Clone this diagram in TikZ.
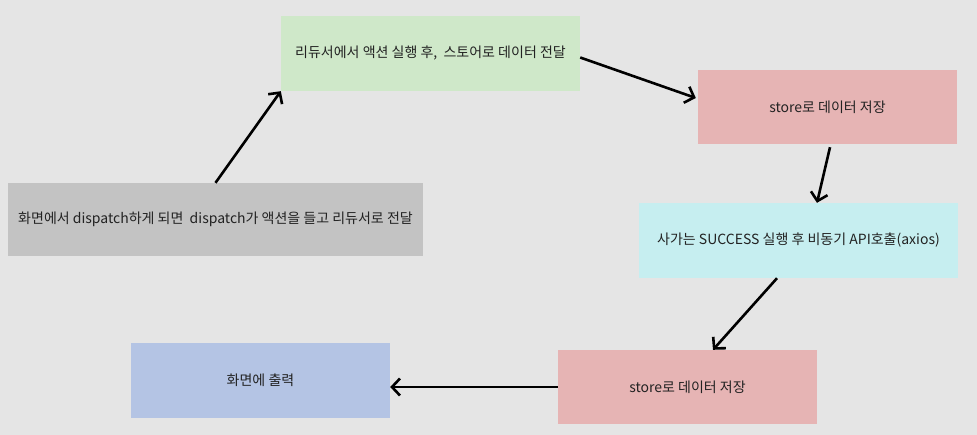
\documentclass[tikz,border=0pt]{standalone}
\usepackage{fontspec}
\setmainfont{Noto Sans CJK KR}
\usetikzlibrary{arrows.meta}

\definecolor{bgGray}{HTML}{E5E5E5}
\definecolor{boxGray}{HTML}{C3C3C3}
\definecolor{boxGreen}{HTML}{CFE8C9}
\definecolor{boxPink}{HTML}{E6B4B4}
\definecolor{boxCyan}{HTML}{C6EEF0}
\definecolor{boxBlue}{HTML}{B4C4E4}
\definecolor{txtDark}{HTML}{222222}

\begin{document}
\begin{tikzpicture}[x=1pt, y=-1pt,
		stepbox/.style={shape=rectangle, inner sep=0pt, text=txtDark, font=\fontsize{14}{17}\selectfont},
		flow/.style={line width=2.6pt, -{Straight Barb[length=8pt, width=17pt, line width=2.6pt]}}]
			\fill[bgGray] (0, 0) rectangle (977, 435);
			\useasboundingbox (0, 0) rectangle (977, 435);
			\node[stepbox, fill=boxGray, minimum width=415pt, minimum height=73pt](N1) at (215.5, 219.5){화면에서 dispatch하게 되면~~dispatch가 액션을 들고 리듀서로 전달};
			\node[stepbox, fill=boxGreen, minimum width=299pt, minimum height=75pt](N2) at (430.5, 53.5){리듀서에서 액션 실행 후,~~스토어로 데이터 전달};
			\node[stepbox, fill=boxPink, minimum width=259pt, minimum height=74pt](N3) at (827.5, 107){store로 데이터 저장};
			\node[stepbox, fill=boxCyan, minimum width=319pt, minimum height=75pt](N4) at (798.5, 240.5){사가는 SUCCESS 실행 후 비동기 API호출(axios)};
			\node[stepbox, fill=boxPink, minimum width=259pt, minimum height=74pt](N5) at (687.5, 387){store로 데이터 저장};
			\node[stepbox, fill=boxBlue, minimum width=259pt, minimum height=75pt](N6) at (260.5, 380.5){화면에 출력};
			\draw[flow] (N1.north) -- (N2.south west);
			\draw[flow] ([yshift=-4pt]N2.east) -- ([xshift=-2pt, yshift=9pt]N3.west);
			\draw[flow] ([xshift=2.5pt, yshift=-3pt]N3.south) -- ([xshift=18.5pt]N4.north);
			\draw[flow] ([xshift=-21.5pt]N4.south) -- ([xshift=25.5pt]N5.north);
			\draw[flow, line width=2pt] (N5.west) -- (N5.west -| N6.east);
		\end{tikzpicture}
\end{document}
